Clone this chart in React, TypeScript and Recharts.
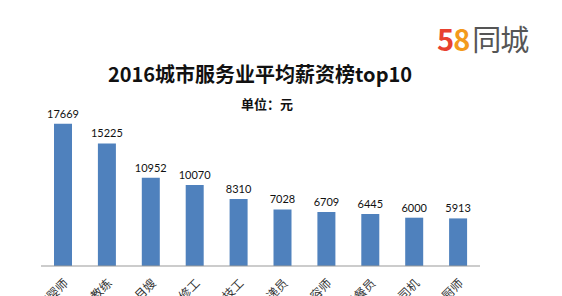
import { Bar, BarChart, LabelList, XAxis, YAxis } from "recharts";

const jobs = ["育婴师", "健身教练", "月嫂", "维修工", "美发技工", "快递员", "美容师", "送餐员", "司机", "厨师"];
const salaries = [17669, 15225, 10952, 10070, 8310, 7028, 6709, 6445, 6000, 5913];

const data = jobs.map((name, i) => ({ name, salary: salaries[i] }));

const font = "Lato, 'Noto Sans CJK SC', sans-serif";

function JobTick({ x, y, payload }: any) {
  return (
    <g transform={`translate(${x + 6},${y + 10})`}>
      <text textAnchor="end" transform="rotate(-45)" fontSize={12} fill="#333" fontFamily="'Noto Sans CJK SC', sans-serif">
        {payload.value}
      </text>
    </g>
  );
}

export default function App() {
  return (
    <div
      style={{
        position: "absolute",
        left: 0,
        top: 0,
        width: 562,
        height: 296,
        background: "#fff",
        overflow: "hidden",
        fontFamily: font,
      }}
    >
      <div
        style={{
          position: "absolute",
          left: 437,
          top: 18,
          fontSize: 29,
          fontWeight: 700,
          fontFamily: "'Noto Sans CJK SC', sans-serif",
          lineHeight: "40px",
          letterSpacing: -1,
        }}
      >
        <span style={{ color: "#e8412f" }}>5</span>
        <span style={{ color: "#f39a1c" }}>8</span>
        <span style={{ color: "#555", fontWeight: 400, marginLeft: 3 }}>同城</span>
      </div>
      <div
        style={{
          position: "absolute",
          left: 0,
          width: 520,
          top: 60,
          textAlign: "center",
          fontSize: 20,
          fontWeight: 700,
          color: "#111",
          fontFamily: "'Noto Sans CJK SC', sans-serif",
          lineHeight: "28px",
        }}
      >
        2016城市服务业平均薪资榜top10
      </div>
      <div
        style={{
          position: "absolute",
          left: 0,
          width: 534,
          top: 95,
          textAlign: "center",
          fontSize: 13,
          fontWeight: 700,
          color: "#111",
          fontFamily: "'Noto Sans CJK SC', sans-serif",
          lineHeight: "18px",
        }}
      >
        单位：元
      </div>
      <BarChart
        width={562}
        height={296}
        data={data}
        margin={{ top: 105, right: 82, left: 41, bottom: 0 }}
        barSize={18}
        style={{ position: "absolute", left: 0, top: 0 }}
      >
        <XAxis
          dataKey="name"
          height={30}
          interval={0}
          tickLine={false}
          axisLine={{ stroke: "#999" }}
          tick={<JobTick />}
        />
        <YAxis hide domain={[0, 20000]} />
        <Bar dataKey="salary" fill="#4f81bd" isAnimationActive={false}>
          <LabelList dataKey="salary" position="top" offset={6} fontSize={11} fill="#111" fontFamily={font} />
        </Bar>
      </BarChart>
    </div>
  );
}
